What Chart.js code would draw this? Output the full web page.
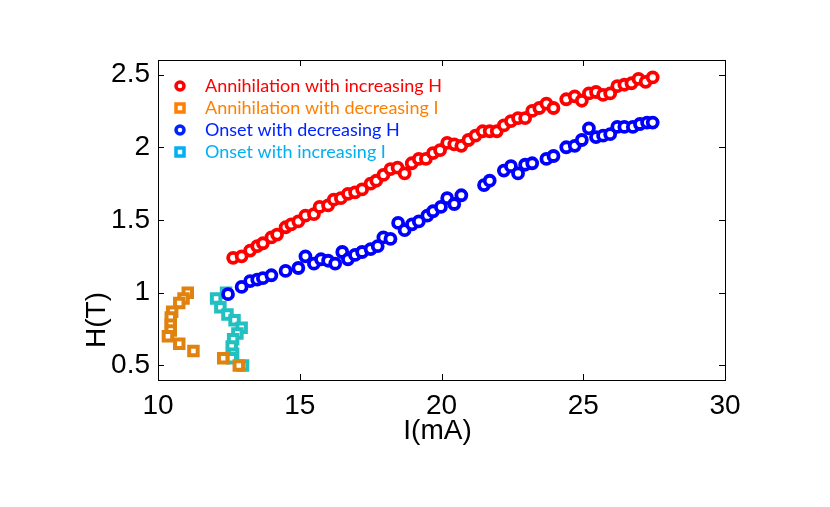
<!DOCTYPE html>
<html>
<head>
<meta charset="utf-8">
<script src="https://cdn.jsdelivr.net/npm/chart.js@4.4.1/dist/chart.umd.min.js"></script>
<style>
  html, body { margin: 0; padding: 0; background: #fff; }
  #wrap { width: 830px; height: 507px; }
</style>
</head>
<body>
<div id="wrap"><canvas id="c"></canvas></div>
<script>
// red: annihilation with increasing H
const redI = [12.65, 12.95, 13.25, 13.5, 13.7, 14.0, 14.2, 14.5, 14.7, 14.95, 15.2, 15.5, 15.7, 16.0, 16.2, 16.45, 16.7, 16.95, 17.2, 17.5, 17.7, 17.95, 18.2, 18.45, 18.7, 18.95, 19.2, 19.45, 19.7, 19.95, 20.2, 20.45, 20.7, 20.95, 21.2, 21.45, 21.7, 21.95, 22.2, 22.45, 22.7, 22.95, 23.2, 23.45, 23.7, 23.95, 24.4, 24.7, 24.95, 25.2, 25.45, 25.7, 25.95, 26.2, 26.45, 26.7, 26.95, 27.2, 27.45];
const redH = [1.24, 1.25, 1.29, 1.32, 1.34, 1.38, 1.40, 1.45, 1.47, 1.49, 1.53, 1.54, 1.59, 1.60, 1.64, 1.65, 1.68, 1.69, 1.71, 1.75, 1.77, 1.81, 1.85, 1.86, 1.82, 1.89, 1.92, 1.92, 1.96, 1.98, 2.03, 2.02, 2.01, 2.05, 2.08, 2.11, 2.11, 2.11, 2.15, 2.18, 2.20, 2.20, 2.25, 2.27, 2.30, 2.27, 2.33, 2.35, 2.32, 2.37, 2.38, 2.36, 2.37, 2.42, 2.43, 2.44, 2.47, 2.45, 2.48];

// orange: annihilation with decreasing I
const orangeI = [11.05, 10.9, 10.75, 10.5, 10.45, 10.45, 10.45, 10.35, 10.75, 11.25, 12.3, 12.85];
const orangeH = [1.0, 0.96, 0.93, 0.87, 0.83, 0.78, 0.74, 0.70, 0.65, 0.60, 0.55, 0.50];

// blue: onset with decreasing H
const blueI = [12.47, 12.95, 13.25, 13.5, 13.7, 14.0, 14.5, 14.95, 15.2, 15.5, 15.75, 16.0, 16.25, 16.5, 16.7, 16.95, 17.2, 17.5, 17.75, 17.95, 18.2, 18.47, 18.7, 18.96, 19.2, 19.5, 19.7, 19.98, 20.2, 20.45, 20.7, 21.5, 21.7, 22.2, 22.45, 22.7, 22.95, 23.2, 23.7, 23.95, 24.4, 24.7, 24.95, 25.2, 25.45, 25.7, 25.95, 26.2, 26.45, 26.75, 27.0, 27.25, 27.45];
const blueH = [0.99, 1.04, 1.08, 1.09, 1.10, 1.12, 1.15, 1.17, 1.25, 1.20, 1.23, 1.22, 1.20, 1.28, 1.23, 1.26, 1.28, 1.30, 1.32, 1.38, 1.37, 1.48, 1.43, 1.47, 1.49, 1.53, 1.56, 1.59, 1.65, 1.61, 1.67, 1.74, 1.77, 1.84, 1.87, 1.82, 1.88, 1.89, 1.92, 1.94, 2.00, 2.01, 2.05, 2.13, 2.07, 2.08, 2.09, 2.14, 2.14, 2.14, 2.16, 2.17, 2.17];

// cyan: onset with increasing I
const cyanI = [12.4, 12.05, 12.2, 12.45, 12.7, 12.95, 12.8, 12.65, 12.6, 12.65, 12.6, 13.0];
const cyanH = [1.0, 0.96, 0.90, 0.85, 0.81, 0.76, 0.72, 0.68, 0.63, 0.58, 0.55, 0.50];

const seriesNames = ['Annihilation with increasing H', 'Annihilation with decreasing I', 'Onset with decreasing H', 'Onset with increasing I'];
const xTicks = [10, 15, 20, 25, 30];
const yTicks = [0.5, 1, 1.5, 2, 2.5];

const markerColors = ['#ff0000', '#e0820f', '#0000ff', '#22c0c0'];
const textColors = ['#ff0000', '#ff8000', '#0022ff', '#00b0f0'];
const styles = ['circle', 'rect', 'circle', 'rect'];

function pts(xs, ys) {
    return xs.map((x, i) => ({ x: x, y: ys[i] }));
}

const datasets = [
    pts(redI, redH), pts(orangeI, orangeH), pts(blueI, blueH), pts(cyanI, cyanH)
].map((d, i) => ({
    label: seriesNames[i],
    data: d,
    pointStyle: styles[i],
    pointRadius: styles[i] === 'circle' ? 5 : 6,
    pointBorderWidth: styles[i] === 'circle' ? 3.8 : 4,
    pointBorderColor: markerColors[i],
    pointBackgroundColor: '#ffffff',
    showLine: false
}));

const frame = {
    id: 'frame',
    afterDraw(chart) {
        const ctx = chart.ctx;
        const a = chart.chartArea;
        const xs = chart.scales.x, ys = chart.scales.y;
        ctx.save();
        ctx.strokeStyle = '#000';
        ctx.lineWidth = 1;
        ctx.beginPath();
        xTicks.forEach(v => {
            const p = Math.round(xs.getPixelForValue(v)) + 0.5;
            ctx.moveTo(p, a.bottom); ctx.lineTo(p, a.bottom - 6);
            ctx.moveTo(p, a.top); ctx.lineTo(p, a.top + 6);
        });
        yTicks.forEach(v => {
            const p = Math.round(ys.getPixelForValue(v)) + 0.5;
            ctx.moveTo(a.left, p); ctx.lineTo(a.left + 6, p);
            ctx.moveTo(a.right, p); ctx.lineTo(a.right - 6, p);
        });
        ctx.stroke();
        ctx.strokeRect(Math.round(a.left) + 0.5, Math.round(a.top) + 0.5, Math.round(a.right - a.left), Math.round(a.bottom - a.top));

        // legend inside the axes
        ctx.font = '18px Lato';
        ctx.textBaseline = 'middle';
        seriesNames.forEach((name, i) => {
            const cy = a.top + 26 + i * 22;
            const cx = a.left + 22;
            ctx.lineWidth = 3.5;
            ctx.strokeStyle = textColors[i];
            ctx.fillStyle = '#fff';
            ctx.beginPath();
            if (styles[i] === 'circle') {
                ctx.arc(cx, cy, 4, 0, Math.PI * 2);
            } else {
                ctx.rect(cx - 4, cy - 4, 8, 8);
            }
            ctx.fill();
            ctx.stroke();
            ctx.fillStyle = textColors[i];
            ctx.textAlign = 'left';
            ctx.fillText(name, a.left + 47, cy);
        });

        // axis titles
        ctx.fillStyle = '#000';
        ctx.font = '28px "Liberation Sans"';
        ctx.textAlign = 'center';
        ctx.fillText('I(mA)', (a.left + a.right) / 2 - 4, 431);
        ctx.translate(97, 320);
        ctx.rotate(-Math.PI / 2);
        ctx.fillText('H(T)', 0, 0);
        ctx.restore();
    }
};

new Chart(document.getElementById('c'), {
    type: 'scatter',
    data: { datasets: datasets },
    options: {
        responsive: true,
        maintainAspectRatio: false,
        animation: false,
        layout: { padding: { left: 0, top: 60, right: 105, bottom: 0 } },
        plugins: { legend: { display: false }, tooltip: { enabled: false } },
        scales: {
            x: {
                type: 'linear', min: 10, max: 30,
                afterBuildTicks: s => { s.ticks = xTicks.map(v => ({ value: v })); },
                afterFit: s => { s.height = 127; },
                grid: { display: false },
                border: { display: false },
                ticks: { color: '#000', padding: 1, callback: v => String(v), font: { family: 'Liberation Sans', size: 28 } }
            },
            y: {
                type: 'linear', min: 0.4, max: 2.6,
                afterBuildTicks: s => { s.ticks = yTicks.map(v => ({ value: v })); },
                afterFit: s => { s.width = 158; },
                grid: { display: false },
                border: { display: false },
                ticks: { color: '#000', padding: 0, callback: v => String(v), font: { family: 'Liberation Sans', size: 28 } }
            }
        }
    },
    plugins: [frame]
});
</script>
</body>
</html>
